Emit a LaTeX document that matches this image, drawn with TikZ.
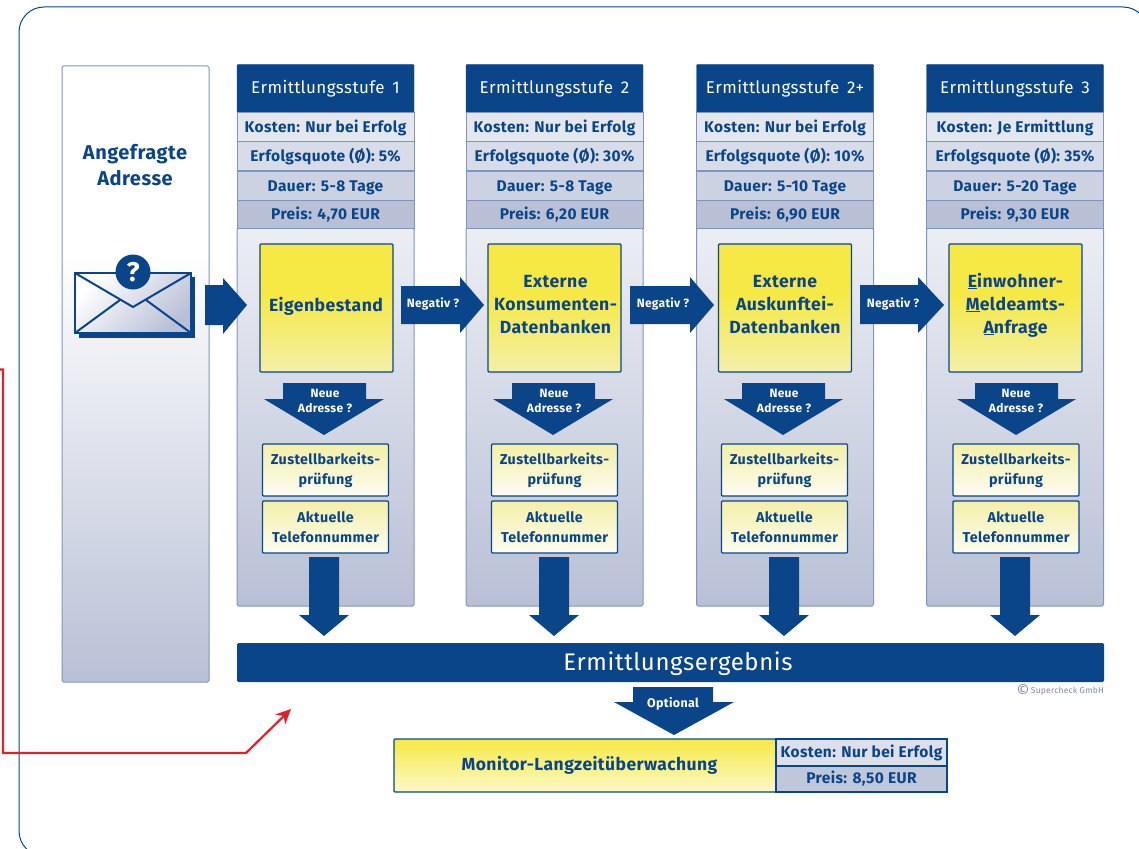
\documentclass[tikz,border=0pt]{standalone}
\usepackage{fontspec}
\setmainfont{Fira Sans}[LetterSpace=2.5]
\usetikzlibrary{arrows.meta}
\definecolor{navy}{HTML}{0B4589}
\definecolor{edgeblue}{HTML}{7F95BE}
\definecolor{panelbottom}{HTML}{B9C0D6}
\definecolor{paneltop}{HTML}{ECEEF4}
\definecolor{signalred}{HTML}{E2202C}
\definecolor{boxyellow}{HTML}{F6E945}
\definecolor{boxpale}{HTML}{F3EFA8}
\pgfdeclareverticalshading{adressshade}{100bp}{color(0bp)=(panelbottom); color(25bp)=(panelbottom); color(60bp)=(white); color(100bp)=(white)}
\pgfdeclareverticalshading{quelleshade}{100bp}{color(0bp)=(boxpale); color(25bp)=(boxpale); color(55bp)=(boxyellow); color(100bp)=(boxyellow)}

\begin{document}
\begin{tikzpicture}[x=1pt, y=-1pt,
	panel/.style={draw=edgeblue, line width=1pt, rounded corners=1.5pt, bottom color=panelbottom, top color=paneltop, minimum width=177pt, minimum height=378pt, inner sep=0pt},
	header/.style={draw=navy, fill=navy, rounded corners=1pt, text=white, minimum width=177pt, minimum height=48pt, inner sep=0pt, font=\fontsize{17}{20}\selectfont},
	inforow/.style={draw=edgeblue, line width=1pt, minimum width=177pt, minimum height=29pt, inner sep=0pt, text height=13pt, text depth=2pt, text=navy, font=\bfseries\fontsize{15.5}{18}\selectfont},
	quelle/.style={draw=navy, line width=1.2pt, rounded corners=1pt, shading=quelleshade, minimum width=133pt, minimum height=128pt, inner sep=0pt},
	quelletext/.style={inner sep=0pt, align=center, text=navy, font=\bfseries\fontsize{17.6}{23}\selectfont},
	pruefung/.style={draw=navy, line width=1.2pt, rounded corners=1pt, top color=boxpale, bottom color=white!85!boxpale, minimum width=126pt, minimum height=52pt, inner sep=0pt, align=center, text=navy, font=\bfseries\fontsize{14.3}{20}\selectfont},
	blockarrow/.style={fill=navy},
	arrowtext/.style={text=white, inner sep=0pt, align=center, font=\bfseries\fontsize{12}{15}\selectfont}]

	\useasboundingbox (0,0) rectangle (1139,848);

	% Rahmen
	\begin{scope}
		\clip (0,0) rectangle (1139,848);
		\draw[navy, line width=1pt, rounded corners=25pt] (19,7) rectangle (1148,856);
	\end{scope}

	% angefragte Adresse
	\node[draw=edgeblue, line width=1pt, rounded corners=1.5pt, shading=adressshade, minimum width=147pt, minimum height=616pt, inner sep=0pt] (adresse) at (135.5,374) {};
	\node[text=navy, align=center, font=\bfseries\fontsize{20}{26}\selectfont] (adresstext) at (135,165) {Angefragte\\Adresse};

	% Umschlag
	\fill[navy] (79,277) rectangle (195,338);
	\draw[navy, line width=2pt, top color=white, bottom color=panelbottom, shading angle=45] (75,273) rectangle (191,333);
	\draw[navy, line width=2pt] (75,273) -- (133,307) -- (191,273);
	\draw[navy, line width=2pt] (75,333) -- (120,300);
	\draw[navy, line width=2pt] (191,333) -- (146,300);
	\node[circle, fill=navy, minimum size=35pt, inner sep=0pt, text=white, font=\bfseries\fontsize{27}{27}\selectfont] (frage) at (133,272) {?};

	% Stufe 1
	\node[panel] (stufe1) at (325.5,417) {};
	\node[header] (kopf1) at (325.5,88.5) {Ermittlungsstufe\, 1};
	\node[inforow, fill=paneltop!85!panelbottom] (kosten1) at (325.5,127) {Kosten: Nur bei Erfolg};
	\node[inforow, fill=paneltop!60!panelbottom] (quote1) at (325.5,156) {Erfolgsquote (Ø): 5\%};
	\node[inforow, fill=paneltop!40!panelbottom] (dauer1) at (325.5,185.5) {Dauer: 5-8 Tage};
	\node[inforow, fill=panelbottom, minimum height=28pt] (preis1) at (325.5,214) {Preis: 4,70 EUR};
	\node[quelle] (quelle1) at (326.5,308) {};
	\node[quelletext] (name1) at (326,306) {Eigenbestand};
	\fill[blockarrow] (205,285) -- (223,285) -- (223,278) -- (247,305) -- (223,334) -- (223,325) -- (205,325) -- cycle;
	\fill[blockarrow] (283,383) -- (366,383) -- (366,399) -- (384,399) -- (324,435) -- (264,399) -- (283,399) -- cycle;
	\node[arrowtext] (neu1) at (325,401) {Neue\\Adresse ?};
	\node[pruefung] (zustell1) at (325.5,470) {Zustellbarkeits-\\prüfung};
	\node[pruefung] (telefon1) at (325.5,527) {Aktuelle\\Telefonnummer};
	\fill[blockarrow] (309,557) -- (339,557) -- (339,615) -- (349,615) -- (324,636) -- (299,615) -- (309,615) -- cycle;

	% Stufe 2
	\node[panel] (stufe2) at (554.5,417) {};
	\node[header] (kopf2) at (554.5,88.5) {Ermittlungsstufe\, 2};
	\node[inforow, fill=paneltop!85!panelbottom] (kosten2) at (554.5,127) {Kosten: Nur bei Erfolg};
	\node[inforow, fill=paneltop!60!panelbottom] (quote2) at (554.5,156) {Erfolgsquote (Ø): 30\%};
	\node[inforow, fill=paneltop!40!panelbottom] (dauer2) at (554.5,185.5) {Dauer: 5-8 Tage};
	\node[inforow, fill=panelbottom, minimum height=28pt] (preis2) at (554.5,214) {Preis: 6,20 EUR};
	\node[quelle] (quelle2) at (554.5,308) {};
	\node[quelletext] (name2) at (555.5,305) {Externe\\Konsumenten-\\Datenbanken};
	\fill[blockarrow] (401,286) -- (460,286) -- (460,277) -- (484,305) -- (460,333) -- (460,324) -- (401,324) -- cycle;
	\node[arrowtext] (neg1) at (433,304) {Negativ ?};
	\fill[blockarrow] (512,383) -- (595,383) -- (595,399) -- (613,399) -- (553,435) -- (493,399) -- (512,399) -- cycle;
	\node[arrowtext] (neu2) at (554,401) {Neue\\Adresse ?};
	\node[pruefung] (zustell2) at (554.5,470) {Zustellbarkeits-\\prüfung};
	\node[pruefung] (telefon2) at (554.5,527) {Aktuelle\\Telefonnummer};
	\fill[blockarrow] (539,557) -- (569,557) -- (569,615) -- (579,615) -- (554,636) -- (529,615) -- (539,615) -- cycle;

	% Stufe 2+
	\node[panel] (stufe3) at (785,417) {};
	\node[header] (kopf3) at (785,88.5) {Ermittlungsstufe\, 2+};
	\node[inforow, fill=paneltop!85!panelbottom] (kosten3) at (785,127) {Kosten: Nur bei Erfolg};
	\node[inforow, fill=paneltop!60!panelbottom] (quote3) at (785,156) {Erfolgsquote (Ø): 10\%};
	\node[inforow, fill=paneltop!40!panelbottom] (dauer3) at (785,185.5) {Dauer: 5-10 Tage};
	\node[inforow, fill=panelbottom, minimum height=28pt] (preis3) at (785,214) {Preis: 6,90 EUR};
	\node[quelle] (quelle3) at (785,308) {};
	\node[quelletext] (name3) at (785,305) {Externe\\Auskunftei-\\Datenbanken};
	\fill[blockarrow] (630,286) -- (690,286) -- (690,277) -- (714,305) -- (690,333) -- (690,324) -- (630,324) -- cycle;
	\node[arrowtext] (neg2) at (663,304) {Negativ ?};
	\fill[blockarrow] (742,383) -- (825,383) -- (825,399) -- (843,399) -- (783,435) -- (724,399) -- (742,399) -- cycle;
	\node[arrowtext] (neu3) at (784,401) {Neue\\Adresse ?};
	\node[pruefung] (zustell3) at (784.5,470) {Zustellbarkeits-\\prüfung};
	\node[pruefung] (telefon3) at (784.5,527) {Aktuelle\\Telefonnummer};
	\fill[blockarrow] (769,557) -- (799,557) -- (799,615) -- (809,615) -- (784,636) -- (759,615) -- (769,615) -- cycle;

	% Stufe 3
	\node[panel] (stufe4) at (1015,417) {};
	\node[header] (kopf4) at (1015,88.5) {Ermittlungsstufe\, 3};
	\node[inforow, fill=paneltop!85!panelbottom] (kosten4) at (1015,127) {Kosten: Je Ermittlung};
	\node[inforow, fill=paneltop!60!panelbottom] (quote4) at (1015,156) {Erfolgsquote (Ø): 35\%};
	\node[inforow, fill=paneltop!40!panelbottom] (dauer4) at (1015,185.5) {Dauer: 5-20 Tage};
	\node[inforow, fill=panelbottom, minimum height=28pt] (preis4) at (1015,214) {Preis: 9,30 EUR};
	\node[quelle] (quelle4) at (1015.5,308) {};
	\node[quelletext] (name4) at (1015.5,305) {\underline{E}inwohner-\\\underline{M}eldeamts-\\\underline{A}nfrage};
	\fill[blockarrow] (860,285) -- (918,285) -- (918,277) -- (944,305) -- (918,333) -- (918,324) -- (860,324) -- cycle;
	\node[arrowtext] (neg3) at (893,304) {Negativ ?};
	\fill[blockarrow] (975,383) -- (1058,383) -- (1058,399) -- (1076,399) -- (1016,435) -- (957,399) -- (975,399) -- cycle;
	\node[arrowtext] (neu4) at (1016,401) {Neue\\Adresse ?};
	\node[pruefung] (zustell4) at (1016,470) {Zustellbarkeits-\\prüfung};
	\node[pruefung] (telefon4) at (1016,527) {Aktuelle\\Telefonnummer};
	\fill[blockarrow] (1000,557) -- (1030,557) -- (1030,615) -- (1040,615) -- (1015,636) -- (990,615) -- (1000,615) -- cycle;

	% Ergebnis
	\node[fill=navy, rounded corners=1.5pt, text=white, minimum width=867pt, minimum height=39pt, inner sep=0pt, text height=17pt, text depth=1pt, font=\fontsize{24}{26}\selectfont] (ergebnis) at (670.5,662.5) {\hspace*{15pt}Ermittlungsergebnis};
	\node[anchor=east, text=edgeblue!50!gray, inner sep=0pt, font=\fontsize{8.5}{10}\selectfont] (copy) at (1104,691) {\raisebox{-3pt}{\fontsize{16}{16}\selectfont ©}\,Supercheck GmbH};
	\fill[blockarrow] (633,687) -- (713,687) -- (713,702) -- (734,702) -- (674,735) -- (614,702) -- (633,702) -- cycle;
	\node[arrowtext, font=\bfseries\fontsize{12.5}{15}\selectfont] (optional) at (673,704) {Optional};

	% Monitor
	\node[draw=navy, line width=1.2pt, rounded corners=1pt, top color=boxyellow, bottom color=boxyellow!30!white, minimum width=382pt, minimum height=53pt, inner sep=0pt, text=navy, font=\bfseries\fontsize{17.5}{20}\selectfont] (monitor) at (585,765.5) {\hspace*{9pt}Monitor-Langzeitüberwachung};
	\node[draw=navy, line width=1.2pt, fill=paneltop!70!panelbottom, minimum width=171pt, minimum height=27pt, inner sep=0pt, text height=12pt, text depth=2.5pt, text=navy, font=\bfseries\fontsize{15.5}{18}\selectfont] (monkosten) at (861.5,752.5) {Kosten: Nur bei Erfolg};
	\node[draw=navy, line width=1.2pt, fill=panelbottom!85!paneltop, minimum width=171pt, minimum height=26pt, inner sep=0pt, text height=12pt, text depth=2.5pt, text=navy, font=\bfseries\fontsize{15.5}{18}\selectfont] (monpreis) at (861.5,779) {Preis: 8,50 EUR};

	% rote Linie
	\coordinate (linestart) at (0,369.5);
	\coordinate (linecorner) at (3,369.5);
	\coordinate (linebottom) at (3,753);
	\coordinate (lineknee) at (246,753);
	\coordinate (linetip) at (291,709);
	\draw[signalred, line width=2.2pt, -{Stealth[length=15pt,width=14pt]}] (linestart) -- (linecorner) -- (linebottom) -- (lineknee) -- (linetip);
\end{tikzpicture}
\end{document}
